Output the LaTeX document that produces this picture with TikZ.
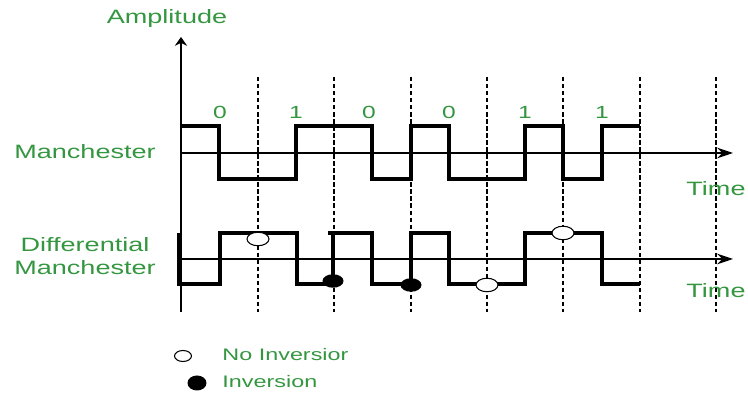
\documentclass[tikz,border=0pt]{standalone}
\usepackage{fontspec}
\setmainfont{Liberation Sans}
\usetikzlibrary{shapes.geometric,arrows.meta}
\definecolor{labgreen}{RGB}{52,150,64}

\begin{document}
\begin{tikzpicture}[
  x=0.02cm, y=-0.02cm,
  lbl/.style={text=labgreen, font=\fontsize{11}{13}\selectfont, xscale=1.4, inner sep=0pt},
  bitlbl/.style={text=labgreen, font=\fontsize{10}{12}\selectfont, xscale=1.4, inner sep=0pt},
  leglbl/.style={text=labgreen, font=\fontsize{9.5}{11}\selectfont, xscale=1.4, inner sep=0pt, anchor=west},
  axis/.style={line width=0.8pt, -{Stealth[length=9pt,width=6pt]}},
  grid/.style={line width=1pt, dash pattern=on 2.5pt off 1.5pt},
  sig/.style={line width=2.5pt},
  nodot/.style={ellipse, draw=black, line width=0.6pt, fill=white, inner sep=0pt,
                minimum width=0.44cm, minimum height=0.27cm},
  invdot/.style={ellipse, fill=black, inner sep=0pt,
                 minimum width=0.42cm, minimum height=0.27cm}
]
\useasboundingbox (0,0) rectangle (748,394);

% axes
\coordinate (orig) at (181,312);
\coordinate (amptop) at (181,37);
\coordinate (mstart) at (181,153);
\coordinate (mend) at (733,153);
\coordinate (dstart) at (181,259);
\coordinate (dend) at (733,259);
\draw[line width=0.8pt, -{Stealth[length=5pt,width=7pt]}] (orig) -- (amptop);
\draw[axis] (mstart) -- (mend);
\draw[axis] (dstart) -- (dend);

% bit boundaries
\draw[grid] (258,77) -- (258,312);
\draw[grid] (334,77) -- (334,312);
\draw[grid] (411,77) -- (411,312);
\draw[grid] (487,77) -- (487,312);
\draw[grid] (563,77) -- (563,312);
\draw[grid] (640,77) -- (640,312);
\draw[grid] (716,77) -- (716,312);

% bits
\node[bitlbl] (b1) at (220,112) {0};
\node[bitlbl] (b2) at (296,112) {1};
\node[bitlbl] (b3) at (369,112) {0};
\node[bitlbl] (b4) at (449,112) {0};
\node[bitlbl] (b5) at (525,112) {1};
\node[bitlbl] (b6) at (602,112) {1};

% Manchester signal
\draw[sig] (181,126) -| (219,179) -| (296,126) -| (372,179) -| (411,126) -| (449,179)
  -| (525,126) -| (563,179) -| (602,126) -- (640,126);

% Differential Manchester signal
\draw[sig] (179,233) -- (179,284) -| (220,233) -| (297,284) -| (333,233) -| (372,284)
  -| (411,233) -| (449,284) -| (525,233) -| (602,284) -- (640,284);
\draw[sig] (328,233) -- (333,233);

% inversion markers
\node[nodot] (nd1) at (258,239) {};
\node[invdot] (iv1) at (333,281) {};
\node[invdot] (iv2) at (411,285) {};
\node[nodot] (nd2) at (487,285) {};
\node[nodot] (nd3) at (563,233) {};

% labels
\node[lbl] (amp) at (167,19) {Amplitude};
\node[lbl] (man) at (85,152) {Manchester};
\node[lbl, align=center] (diff) at (85,256) {Differential\\Manchester};
\node[lbl] (time1) at (716,189) {Time};
\node[lbl] (time2) at (716,291) {Time};

% legend
\node[nodot, minimum width=0.34cm, minimum height=0.22cm] (lgno) at (183,356) {};
\node[invdot, minimum width=0.38cm, minimum height=0.3cm] (lginv) at (197,383) {};
\node[leglbl] (lgnot) at (222,355) {No Inversior};
\node[leglbl] (lginvt) at (222,382) {Inversion};
\end{tikzpicture}
\end{document}
